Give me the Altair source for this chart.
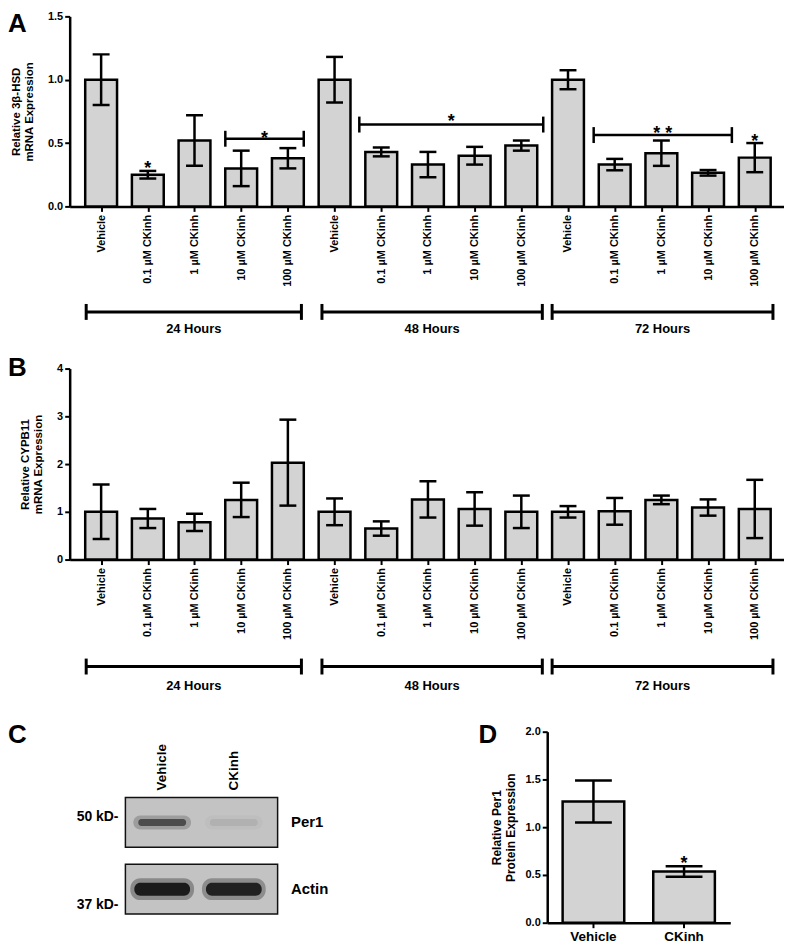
import json
import altair as alt
import pandas as pd

FONT = "Liberation Sans"
FILL = "#d3d3d3"
LW = 2.5

# ---------------- data ----------------
treatments = ["Vehicle", "0.1 µM CKinh", "1 µM CKinh", "10 µM CKinh", "100 µM CKinh"]
hours = ["24 Hours", "48 Hours", "72 Hours"]
x_labels = treatments * 3

hsd_mean = [1.00, 0.25, 0.52, 0.30, 0.38, 1.00, 0.43, 0.33, 0.40, 0.48, 1.00, 0.33, 0.42, 0.265, 0.385]
hsd_err = [0.20, 0.03, 0.20, 0.14, 0.08, 0.18, 0.035, 0.10, 0.07, 0.04, 0.075, 0.045, 0.10, 0.022, 0.115]

cyp_mean = [1.00, 0.86, 0.78, 1.25, 2.03, 1.00, 0.65, 1.26, 1.06, 1.00, 1.00, 1.01, 1.25, 1.09, 1.06]
cyp_err = [0.57, 0.20, 0.18, 0.36, 0.90, 0.28, 0.15, 0.38, 0.35, 0.34, 0.12, 0.28, 0.09, 0.17, 0.61]

# significance brackets in panel A (bar-index units)
hsd_sig_start = [2.66, 5.53, 10.55]
hsd_sig_end = [4.34, 9.47, 13.51]
hsd_sig_level = [0.534, 0.646, 0.563]
hsd_sig_text = ["*", "*", "* *"]
hsd_sig_text_level = [0.58, 0.715, 0.62]
hsd_star_index = [1, 14]
hsd_star_level = [0.345, 0.555]

# time-point group brackets (bar-index units)
group_start = [-0.32, 4.73, 9.66]
group_end = [4.29, 9.45, 14.39]

# panel C (western blot)
blot_lanes = ["Vehicle", "CKinh"]
blot_rows = ["Per1", "Actin"]
per1_band = [0.60, 0.07]
actin_band = [0.95, 0.90]
kd_markers = ["50 kD-", "37 kD-"]

# panel D
per1_groups = ["Vehicle", "CKinh"]
per1_mean = [1.27, 0.535]
per1_err = [0.22, 0.055]
per1_star_group = ["CKinh"]
per1_star_level = [0.675]

X_DOMAIN = [-0.567, 14.52]


def letter_layer(letter, lx, ly):
    return alt.Chart(pd.DataFrame({"t": [letter]})).mark_text(
        font=FONT, fontSize=26, fontWeight="bold", align="left", baseline="middle", color="black"
    ).encode(x=alt.value(lx), y=alt.value(ly), text="t:N")


def expression_panel(mean, err, ymax, yticks, yfmt, ytitle, letter, lx, ly, px_unit, height,
                     group_level, group_text_level, sig=True):
    df = pd.DataFrame({"x": list(range(len(mean))), "mean": mean, "err": err})
    df["lo"] = df["mean"] - df["err"]
    df["hi"] = df["mean"] + df["err"]
    xs = alt.Scale(domain=X_DOMAIN, nice=False, zero=False)
    ys = alt.Scale(domain=[0, ymax], nice=False)
    x_axis = alt.Axis(
        values=list(range(len(mean))),
        labelExpr=json.dumps(x_labels, ensure_ascii=False) + "[datum.value]",
        labelAngle=-90, labelFont=FONT, labelFontWeight="bold", labelFontSize=11,
        labelColor="black", labelPadding=3, labelOverlap=False, labelBound=False,
        tickSize=5, tickWidth=2, tickColor="black", domainColor="black", domainWidth=LW,
        grid=False, title=None,
    )
    y_axis = alt.Axis(
        values=yticks, format=yfmt, labelFont=FONT, labelFontWeight="bold", labelFontSize=11,
        labelColor="black", tickSize=5, tickWidth=2, tickColor="black", domainColor="black",
        domainWidth=LW, grid=False, title=ytitle, titleFont=FONT, titleFontWeight="bold",
        titleFontSize=11.5, titleColor="black", titlePadding=13,
    )
    base = alt.Chart(df)
    bars = base.mark_bar(orient="vertical", width=32, fill=FILL, stroke="black", strokeWidth=LW).encode(
        x=alt.X("x:Q", scale=xs, axis=x_axis), y=alt.Y("mean:Q", scale=ys, axis=y_axis)
    )
    whisk = base.mark_rule(color="black", strokeWidth=LW).encode(x="x:Q", y="lo:Q", y2="hi:Q")
    caps = base.transform_fold(["lo", "hi"], as_=["end", "v"]).mark_tick(
        orient="horizontal", size=17, thickness=LW, color="black", opacity=1
    ).encode(x="x:Q", y="v:Q")

    cap = 8.0 / px_unit
    gdf = pd.DataFrame({"start": group_start, "end": group_end, "label": hours})
    gdf["level"] = group_level
    gdf["tlevel"] = group_text_level
    g_line = alt.Chart(gdf).mark_rule(color="black", strokeWidth=3).encode(
        x="start:Q", x2="end:Q", y="level:Q")
    g_caps = alt.Chart(gdf).transform_fold(["start", "end"], as_=["side", "xp"]).transform_calculate(
        c0=f"datum.level - {cap}", c1=f"datum.level + {cap}"
    ).mark_rule(color="black", strokeWidth=3).encode(x="xp:Q", y="c0:Q", y2="c1:Q")
    g_text = alt.Chart(gdf).transform_calculate(mid="(datum.start + datum.end) / 2").mark_text(
        font=FONT, fontSize=13, fontWeight="bold", color="black", baseline="middle"
    ).encode(x="mid:Q", y="tlevel:Q", text="label:N")

    layers = [bars, whisk, caps, g_line, g_caps, g_text]

    if sig:
        sdf = pd.DataFrame({"start": hsd_sig_start, "end": hsd_sig_end, "level": hsd_sig_level,
                            "t": hsd_sig_text, "tl": hsd_sig_text_level})
        s_line = alt.Chart(sdf).mark_rule(color="black", strokeWidth=LW).encode(
            x="start:Q", x2="end:Q", y="level:Q")
        s_caps = alt.Chart(sdf).transform_fold(["start", "end"], as_=["side", "xp"]).transform_calculate(
            c0=f"datum.level - {cap}", c1=f"datum.level + {cap}"
        ).mark_rule(color="black", strokeWidth=LW).encode(x="xp:Q", y="c0:Q", y2="c1:Q")
        s_text = alt.Chart(sdf).transform_calculate(mid="(datum.start + datum.end) / 2").mark_text(
            font=FONT, fontSize=18, fontWeight="bold", color="black", baseline="alphabetic", dy=11
        ).encode(x="mid:Q", y="tl:Q", text="t:N")
        stdf = pd.DataFrame({"x": hsd_star_index, "tl": hsd_star_level, "t": ["*"] * len(hsd_star_index)})
        st_text = alt.Chart(stdf).mark_text(
            font=FONT, fontSize=18, fontWeight="bold", color="black", baseline="alphabetic", dy=11
        ).encode(x="x:Q", y="tl:Q", text="t:N")
        layers += [s_line, s_caps, s_text, st_text]

    layers.append(letter_layer(letter, lx, ly))
    return alt.layer(*layers).properties(width=718, height=height)


panel_a = expression_panel(
    hsd_mean, hsd_err, 1.5, [0, 0.5, 1.0, 1.5], ".1f", ["Relative 3β-HSD", "mRNA Expression"],
    "A", -62, 8, 127.3, 191, -0.833, -0.966, sig=True)

panel_b = expression_panel(
    cyp_mean, cyp_err, 4, [0, 1, 2, 3, 4], "d", ["Relative CYPB11", "mRNA Expression"],
    "B", -62, -1, 48.0, 192, -2.24, -2.64, sig=False)

# ---------------- panel C: blot ----------------
C_W, C_H = 209, 187
lane_scale = alt.Scale(domain=blot_lanes, paddingInner=0, paddingOuter=0.451, align=0.877)
row_scale = alt.Scale(domain=blot_rows, paddingInner=0.254, paddingOuter=0.522, align=0.947)
blot_df = pd.DataFrame({
    "row": ["Per1", "Per1", "Actin", "Actin"],
    "lane": blot_lanes * 2,
    "intensity": per1_band + actin_band,
})
blot_df["halo"] = blot_df["intensity"] * 0.35

box = alt.Chart(pd.DataFrame({"row": blot_rows})).mark_rect(
    fill="#c3c3c3", stroke="#111111", strokeWidth=1.5
).encode(
    y=alt.Y("row:N", scale=row_scale, axis=alt.Axis(
        orient="right", domain=False, ticks=False, labelFont=FONT, labelFontSize=15,
        labelFontWeight="bold", labelColor="black", labelPadding=13, title=None)),
    x=alt.value(56), x2=alt.value(C_W),
)


def band_layer(row, size, thick, field, radius):
    return alt.Chart(blot_df).transform_filter(f"datum.row == '{row}'").mark_tick(
        orient="horizontal", size=size, thickness=thick, color="#151515", cornerRadius=radius
    ).encode(
        x=alt.X("lane:N", scale=lane_scale, axis=None),
        y=alt.Y("row:N", scale=row_scale),
        opacity=alt.Opacity(f"{field}:Q", scale=None, legend=None),
    )


lane_text = alt.Chart(pd.DataFrame({"lane": blot_lanes})).mark_text(
    font=FONT, fontSize=13.5, fontWeight="bold", angle=270, align="left", baseline="middle", color="black"
).encode(x=alt.X("lane:N", scale=lane_scale, axis=None), y=alt.value(59), text="lane:N")

kd_df = pd.DataFrame({"row": blot_rows, "marker": kd_markers})
kd_top = alt.Chart(kd_df).transform_filter("datum.row == 'Per1'").mark_text(
    font=FONT, fontSize=14, fontWeight="bold", align="right", baseline="middle", dy=-5, color="black"
).encode(x=alt.value(49), y=alt.Y("row:N", scale=row_scale), text="marker:N")
kd_bot = alt.Chart(kd_df).transform_filter("datum.row == 'Actin'").mark_text(
    font=FONT, fontSize=14, fontWeight="bold", align="right", baseline="middle", dy=16, color="black"
).encode(x=alt.value(49), y=alt.Y("row:N", scale=row_scale), text="marker:N")

panel_c = alt.layer(
    box,
    band_layer("Per1", 58, 14, "halo", 7),
    band_layer("Per1", 48, 7, "intensity", 3),
    band_layer("Actin", 64, 22, "halo", 10),
    band_layer("Actin", 56, 13, "intensity", 6),
    lane_text, kd_top, kd_bot,
    letter_layer("C", -62, 3),
).properties(width=C_W, height=C_H)

# ---------------- panel D ----------------
ddf = pd.DataFrame({"g": per1_groups, "mean": per1_mean, "err": per1_err})
ddf["lo"] = ddf["mean"] - ddf["err"]
ddf["hi"] = ddf["mean"] + ddf["err"]
dx = alt.Scale(domain=per1_groups, paddingInner=0.32, paddingOuter=0.17)
dy = alt.Scale(domain=[0, 2], nice=False)
d_bars = alt.Chart(ddf).mark_bar(fill=FILL, stroke="black", strokeWidth=LW).encode(
    x=alt.X("g:N", scale=dx, axis=alt.Axis(
        labelAngle=0, labelFont=FONT, labelFontSize=13.5, labelFontWeight="bold", labelColor="black",
        labelPadding=2, tickSize=5, tickWidth=2, tickColor="black", domainColor="black",
        domainWidth=LW, title=None)),
    y=alt.Y("mean:Q", scale=dy, axis=alt.Axis(
        values=[0, 0.5, 1.0, 1.5, 2.0], format=".1f", labelFont=FONT, labelFontWeight="bold",
        labelFontSize=11, labelColor="black", tickSize=5, tickWidth=2, tickColor="black",
        domainColor="black", domainWidth=LW, grid=False,
        title=["Relative Per1", "Protein Expression"], titleFont=FONT, titleFontWeight="bold",
        titleFontSize=12, titleColor="black", titlePadding=8)),
)
d_whisk = alt.Chart(ddf).mark_rule(color="black", strokeWidth=LW).encode(
    x=alt.X("g:N", scale=dx), y="lo:Q", y2="hi:Q")
d_caps = alt.Chart(ddf).transform_fold(["lo", "hi"], as_=["end", "v"]).mark_tick(
    orient="horizontal", size=37, thickness=LW, color="black", opacity=1
).encode(x=alt.X("g:N", scale=dx), y="v:Q")
d_star = alt.Chart(pd.DataFrame({"g": per1_star_group, "tl": per1_star_level, "t": ["*"]})).mark_text(
    font=FONT, fontSize=18, fontWeight="bold", color="black", baseline="alphabetic", dy=11
).encode(x=alt.X("g:N", scale=dx), y="tl:Q", text="t:N")

panel_d = alt.layer(d_bars, d_whisk, d_caps, d_star, letter_layer("D", -69, 3)).properties(
    width=184, height=192)

row3 = alt.hconcat(panel_c, panel_d, spacing=151)
top = alt.vconcat(panel_a, panel_b, spacing=18)
chart = alt.vconcat(top, row3, spacing=29).properties(padding=0).configure(
    font=FONT
).configure_view(stroke=None)

chart.save("out.html", embed_options={"renderer": "svg", "actions": False})
